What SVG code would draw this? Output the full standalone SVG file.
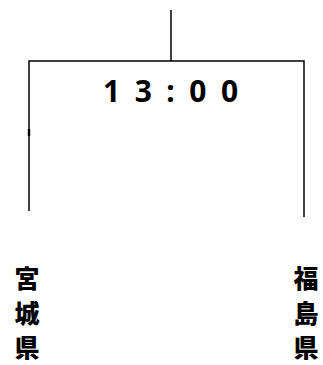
<svg xmlns="http://www.w3.org/2000/svg" width="323" height="365" viewBox="0 0 323 365">
<style>
.ln{stroke:#000;stroke-width:1.5;fill:none}
.t{font-family:"Noto Sans","Noto Sans CJK JP",sans-serif;font-weight:bold;fill:#000}
.jp{font-family:"Noto Sans CJK JP",sans-serif;font-weight:900;font-size:25px;fill:#000;text-anchor:middle}
</style>
<rect width="323" height="365" fill="#fff"/>
<g id="connectors">
<path class="ln" d="M171 10 V61 M29 211 V61 H304 V217"/>
<path d="M29 129 V136" stroke="#000" stroke-width="2.4"/>
</g>
<g id="time"><text class="t" x="103" y="102" font-size="30" letter-spacing="14.5">13:00</text></g>
<g id="miyagi">
<text class="jp" x="27" y="288">宮</text>
<text class="jp" x="27" y="323">城</text>
<text class="jp" x="27" y="357">県</text>
</g>
<g id="fukushima">
<text class="jp" x="306" y="288">福</text>
<text class="jp" x="306" y="323">島</text>
<text class="jp" x="306" y="357">県</text>
</g>
</svg>
